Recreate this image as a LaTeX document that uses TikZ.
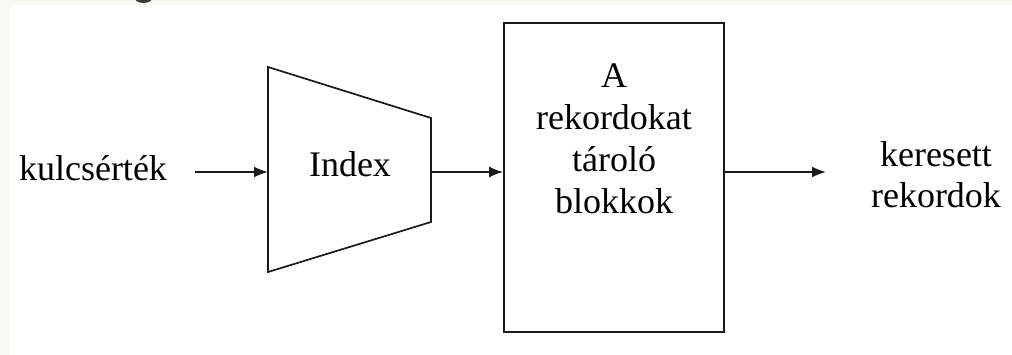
\documentclass[tikz,border=0pt]{standalone}
\usepackage{fontspec}
\setmainfont{Liberation Serif}
\newfontfamily\lblfont{Liberation Serif}
\usetikzlibrary{arrows.meta}
\definecolor{stripcol}{HTML}{F8F9F1}
\definecolor{inkcol}{HTML}{1A1A1A}
\begin{document}
\begin{tikzpicture}[x=1pt,y=-1pt,
  lbl/.style={inner sep=0pt,anchor=base,font=\lblfont\fontsize{36}{42}\selectfont,text=black},
  frame/.style={draw=inkcol,line width=1.7pt,line join=miter},
  flow/.style={draw=inkcol,line width=1.7pt,-{Latex[length=14pt,width=11pt]}}]
\useasboundingbox (0,0) rectangle (1012,355);
% faint strips along the top and left edges
\fill[stripcol] (0,0) rectangle (1012,5);
\fill[stripcol] (0,0) rectangle (10,355);
% descender of a heading letter cut off at the top edge
\begin{scope}
  \clip (120,0) rectangle (170,3);
  \fill[inkcol!85] (143.5,-2.5) ellipse [x radius=9, y radius=5.5];
\end{scope}

% index (trapezium)
\coordinate (t1) at (268,67);
\coordinate (t2) at (431,118);
\coordinate (t3) at (431,222);
\coordinate (t4) at (268,272);
\draw[frame] (t1) -- (t2) -- (t3) -- (t4) -- cycle;
\coordinate (idxin) at (268,172);
\coordinate (idxout) at (431,172);
\node[lbl] (idx) at (350,177) {Index};

% block store
\node[frame,minimum width=220pt,minimum height=309pt,inner sep=0pt] (blk) at (614,177.5) {};
\coordinate (blkin) at (blk.west |- idxout);
\coordinate (blkout) at (blk.east |- idxout);
\node[lbl] (b1) at (614,88) {A};
\node[lbl] (b2) at (614,130) {rekordokat};
\node[lbl] (b3) at (614,172) {tároló};
\node[lbl] (b4) at (614,214) {blokkok};

% input and output labels
\node[lbl] (key) at (93,181) {kulcsérték};
\coordinate (keyout) at (195,172);
\node[lbl] (res1) at (936,167) {keresett};
\node[lbl] (res2) at (936,208) {rekordok};
\coordinate (resin) at (826,172);

% connectors
\draw[flow] (keyout) -- (idxin);
\draw[flow] (idxout) -- (blkin);
\draw[flow] (blkout) -- (resin);
\end{tikzpicture}
\end{document}
